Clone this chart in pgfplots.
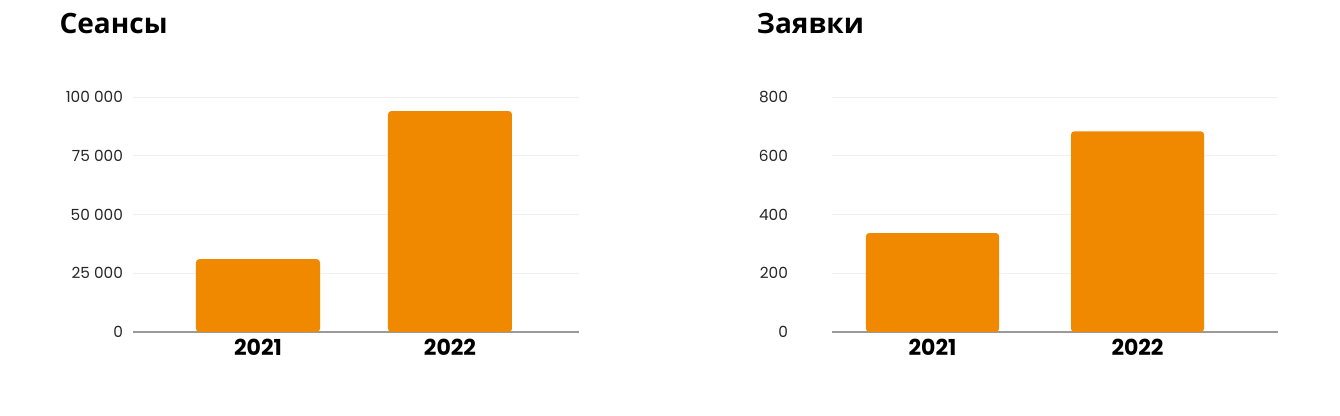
\documentclass[border=0pt]{standalone}
\usepackage{pgfplots}
\pgfplotsset{compat=1.18}
\usepackage{fontspec}
\setmainfont{Poppins}
\newfontfamily\titlefont{Open Sans}
\definecolor{barorange}{HTML}{F08800}
\definecolor{gridgray}{HTML}{F0F0F0}
\definecolor{axisgray}{HTML}{9A9A9A}
\pgfplotsset{
  mybars/.style={
    scale only axis,
    width=334.5pt, height=176.25pt,
    anchor=south west,
    ymin=0,
    scaled y ticks=false,
    xtick={0,1}, xticklabels={2021,2022},
    axis x line*=bottom, axis y line*=left,
    x axis line style={draw=axisgray, line width=1.5pt, -},
    y axis line style={draw=none},
    xtick style={draw=none},
    ymajorgrids, grid style={draw=gridgray, line width=0.6pt},
    ytick style={draw=none},
    x tick label style={font=\fontsize{16.5}{17}\selectfont\bfseries, yshift=-2pt},
    /pgf/number format/assume math mode=true,
    clip=false,
  },
}
\begin{document}
\begin{tikzpicture}[x=1pt,y=1pt]
\useasboundingbox (0,0) rectangle (1005,312);
\node[anchor=base west, inner sep=0pt, font=\titlefont\fontsize{21}{22}\selectfont\bfseries] at (44.5,286.5) {Сеансы};
\node[anchor=base west, inner sep=0pt, font=\titlefont\fontsize{21}{22}\selectfont\bfseries] at (567.5,286.5) {Заявки};
\begin{axis}[mybars, at={(99.75pt,63pt)},
  xmin=-0.651, xmax=1.672, ymax=100000,
  ytick={0,25000,50000,75000,100000},
  yticklabels={0,25 000,50 000,75 000,100 000},
  y tick label style={font=\fontsize{11.5}{12}\selectfont, xshift=-4pt, text=black!85},
  ]
  \addplot[ybar, bar width=0.646, fill=barorange, draw=none, rounded corners=2.5pt] coordinates {(0,31000) (1,94000)};
\end{axis}
\begin{axis}[mybars, at={(624pt,63pt)},
  xmin=-0.49, xmax=1.685, ymax=800,
  ytick={0,200,400,600,800},
  y tick label style={font=\fontsize{11.5}{12}\selectfont, xshift=-29.5pt, text=black!85},
  ]
  \addplot[ybar, bar width=0.649, fill=barorange, draw=none, rounded corners=2.5pt] coordinates {(0,337) (1,683)};
\end{axis}
\end{tikzpicture}
\end{document}
